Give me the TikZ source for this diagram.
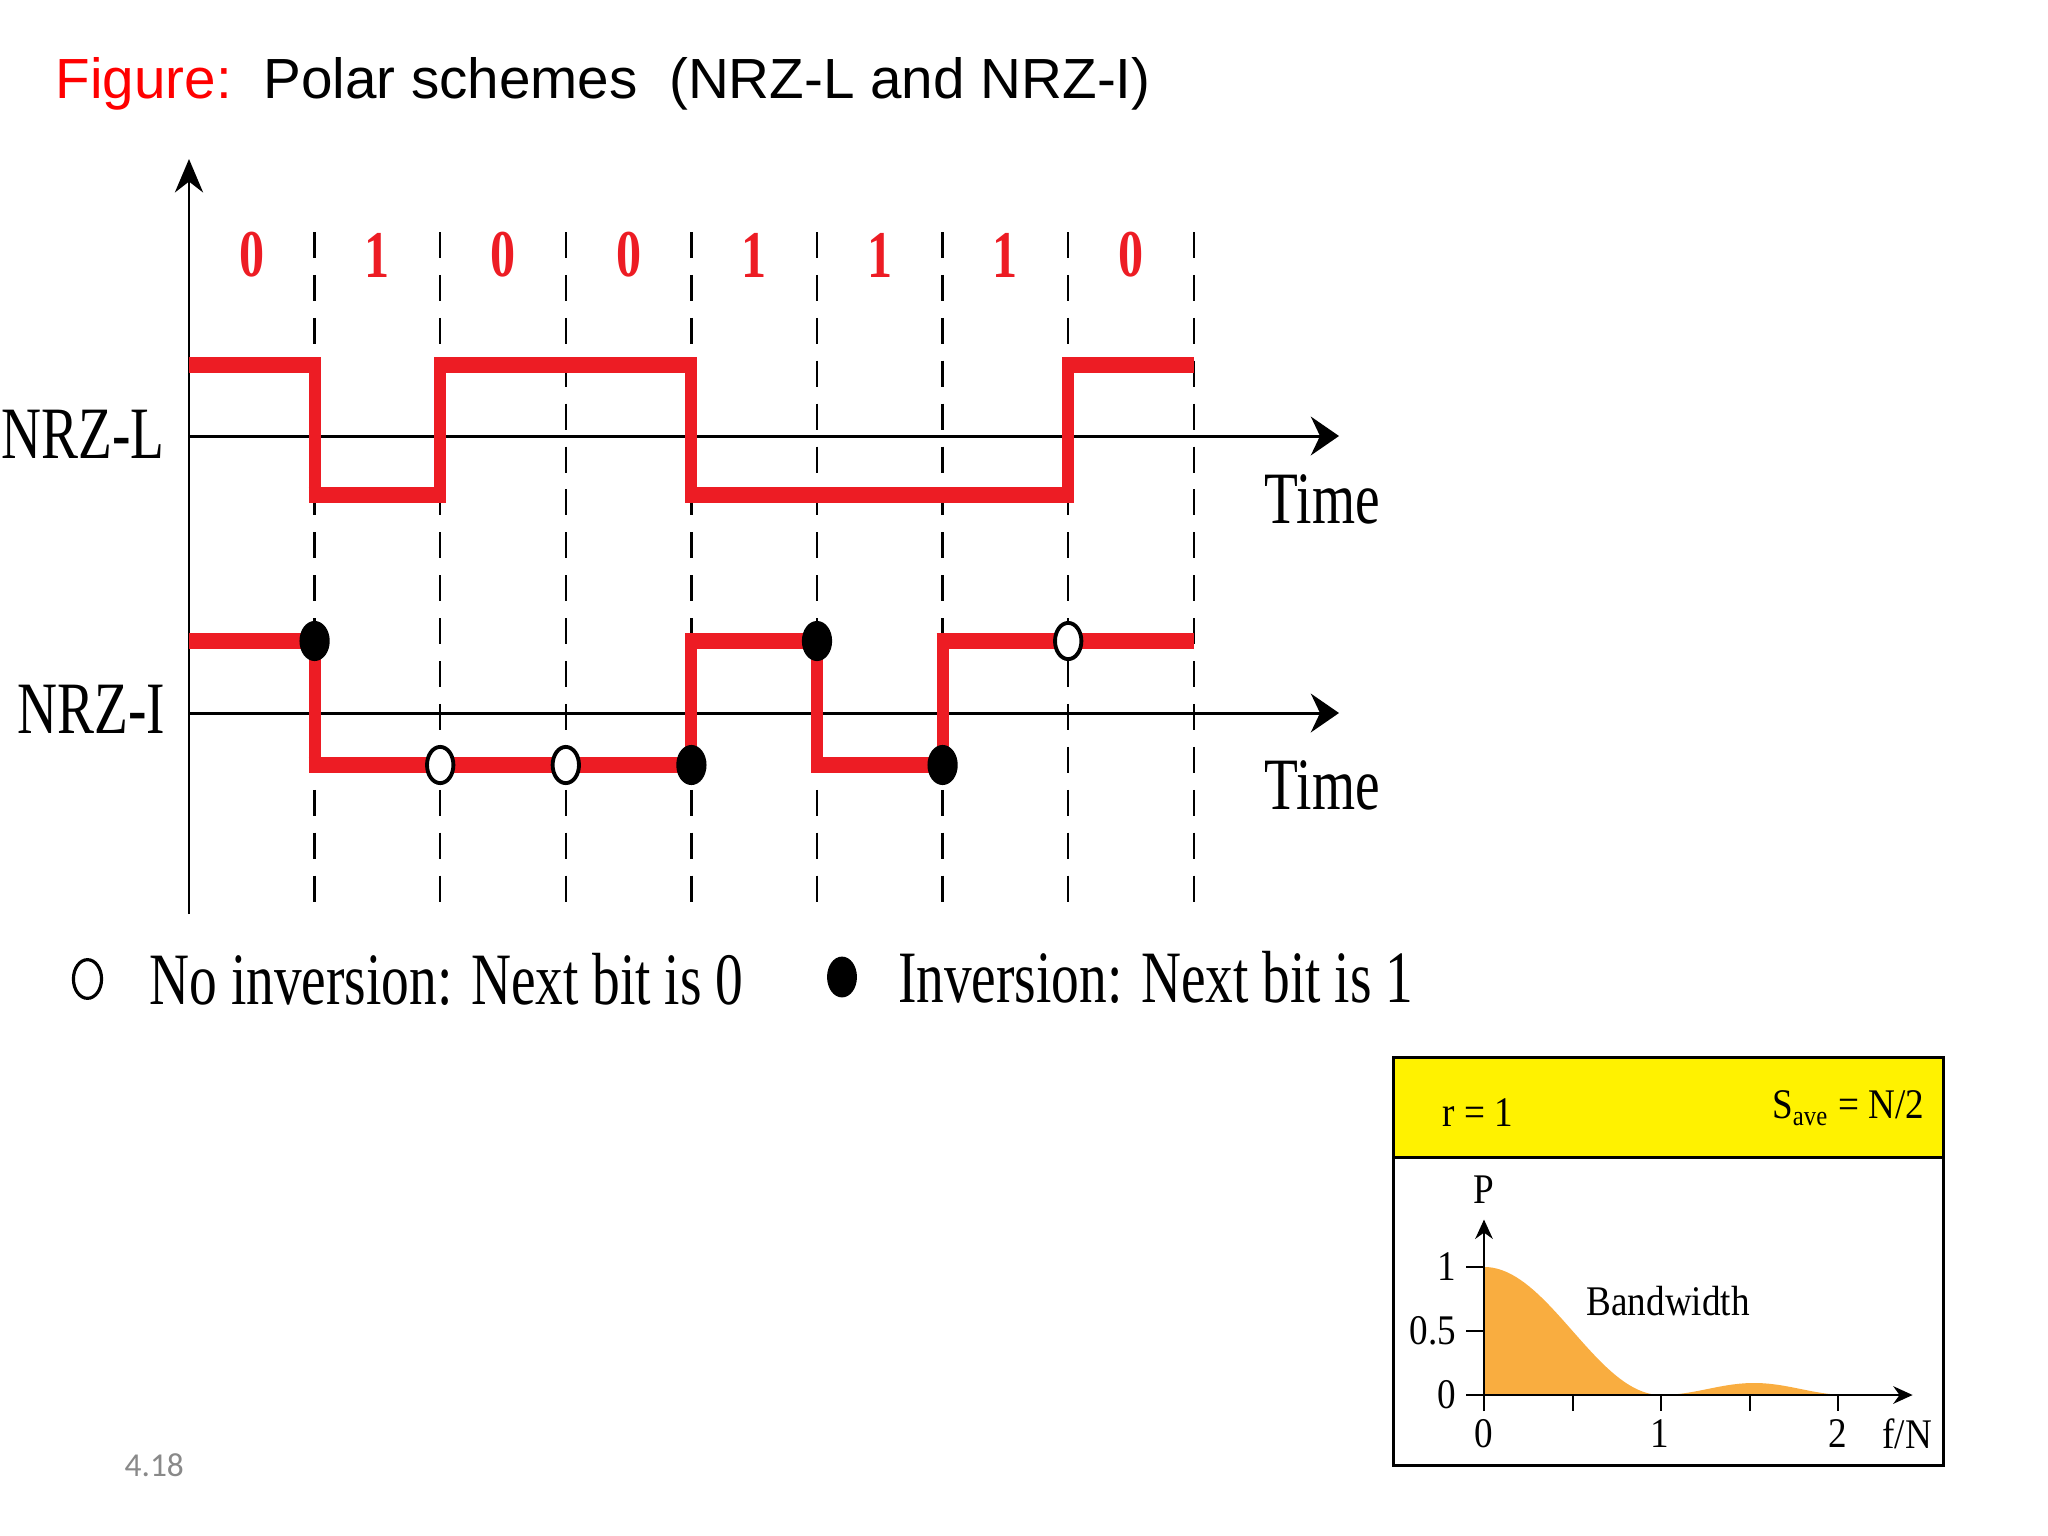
\documentclass[tikz,border=0pt]{standalone}
\usepackage{fontspec}
\setmainfont{Liberation Serif}
\newfontfamily\sanstitle{Liberation Sans}
\newfontfamily\narrowserif[FakeStretch=0.75]{Liberation Serif}
\newfontfamily\boxserif[FakeStretch=0.88]{Liberation Serif}
\newfontfamily\slidenum{Carlito}
\usepackage{tikz}
\usetikzlibrary{positioning,arrows.meta,shapes.geometric}

\definecolor{sigred}{RGB}{237,28,36}
\definecolor{boxyellow}{RGB}{255,242,0}
\definecolor{psdorange}{RGB}{249,173,64}
\definecolor{numgray}{RGB}{137,137,137}

\newcommand{\wavelabel}{\narrowserif\fontsize{21}{24}\selectfont}
\newcommand{\bitlabel}{\narrowserif\bfseries\fontsize{19}{22}\selectfont}
\newcommand{\boxlabel}{\boxserif\fontsize{12}{14}\selectfont}

\begin{document}
\begin{tikzpicture}[x=0.01cm, y=-0.01cm,
    axis/.style={line width=0.85pt},
    haxis/.style={axis, -{Stealth[length=8pt, width=11pt]}},
    vaxis/.style={axis, -{Stealth[length=9.5pt, width=8pt]}},
    bitline/.style={line width=0.7pt, dash pattern=on 7.4pt off 4.8pt},
    sigv/.style={sigred, line width=3.4pt, line join=miter},
    sigh/.style={sigred, line width=4.8pt, shorten <=-1.7pt, shorten >=-1.7pt},
    openmark/.style={ellipse, draw, fill=white, line width=1.1pt, minimum width=7.5pt, minimum height=10.3pt, inner sep=0pt},
    fullmark/.style={openmark, fill=black},
    txt/.style={inner sep=0pt},
    small/.style={line width=0.6pt}
]
\useasboundingbox (0,0) rectangle (2048,1536);

% titolo
\node[txt, anchor=base west, font=\sanstitle\fontsize{16.1}{19}\selectfont] (title) at (55,98)
    {\textcolor{red}{Figure:}~~Polar schemes~~(NRZ-L and NRZ-I)};

% griglia dei bit
\foreach \k in {1,...,8}
    \draw[bitline] ({189+125.6*\k},232) -- ({189+125.6*\k},904);

\foreach \b [count=\k from 0] in {0,1,0,0,1,1,1,0}
    \node[txt, text=sigred, font=\bitlabel] (bit\k) at ({251.8+125.6*\k},255) {\b};

% assi
\coordinate (origin) at (189,914);
\coordinate (ytop) at (189,159);
\coordinate (lstart) at (189,436);
\coordinate (lend) at (1339,436);
\coordinate (istart) at (189,713);
\coordinate (iend) at (1339,713);
\draw[vaxis] (origin) -- (ytop);
\draw[haxis] (lstart) -- (lend);
\draw[haxis] (istart) -- (iend);

\node[txt, anchor=east, font=\wavelabel] (nrzl) at (165,434) {NRZ-L};
\node[txt, anchor=east, font=\wavelabel] (nrzi) at (166,709) {NRZ-I};
\node[txt, anchor=west, font=\wavelabel] (timel) at (1264,499) {Time};
\node[txt, anchor=west, font=\wavelabel] (timei) at (1264,785) {Time};

% NRZ-L
\draw[sigv] (195,365) -- (314.6,365) -- (314.6,495) -- (440.2,495) -- (440.2,365) -- (691.4,365)
    -- (691.4,495) -- (1068.2,495) -- (1068.2,365) -- (1188,365);
\foreach \xa/\xb/\yy in {195/314.6/365, 314.6/440.2/495, 440.2/691.4/365, 691.4/1068.2/495, 1068.2/1188/365}
    \draw[sigh] (\xa,\yy) -- (\xb,\yy);

% NRZ-I
\draw[sigv] (195,641) -- (314.6,641) -- (314.6,765) -- (691.4,765) -- (691.4,641) -- (817,641)
    -- (817,765) -- (942.6,765) -- (942.6,641) -- (1188,641);
\foreach \xa/\xb/\yy in {195/314.6/641, 314.6/691.4/765, 691.4/817/641, 817/942.6/765, 942.6/1188/641}
    \draw[sigh] (\xa,\yy) -- (\xb,\yy);

\node[fullmark] (inv1) at (314.6,641) {};
\node[openmark] (same1) at (440.2,765) {};
\node[openmark] (same2) at (565.8,765) {};
\node[fullmark] (inv2) at (691.4,765) {};
\node[fullmark] (inv3) at (817,641) {};
\node[fullmark] (inv4) at (942.6,765) {};
\node[openmark] (same3) at (1068.2,641) {};

% legenda
\node[openmark, line width=0.9pt, minimum width=8pt, minimum height=11pt] (noinv) at (87.5,979) {};
\node[txt, font=\wavelabel, right=13pt of noinv] (noinvtxt) {No inversion: Next bit is 0};
\node[fullmark, minimum width=7.4pt, minimum height=10.5pt] (inv) at (842,977) {};
\node[txt, font=\wavelabel, right=11.5pt of inv] (invtxt) {Inversion: Next bit is 1};

% riquadro dello spettro
\fill[boxyellow] (1393,1057) rectangle (1943,1157);
\draw[line width=0.85pt] (1393,1157) -- (1943,1157);
\draw[line width=0.85pt] (1393,1057) rectangle (1943,1465);
\node[txt, anchor=west, font=\boxlabel] (rate) at (1442,1113) {r = 1};
\node[txt, anchor=east, font=\boxlabel] (save) at (1925,1108) {S\textsubscript{ave} = N/2};

\begin{scope}[shift={(1484,1395)}, x=1.77cm, y=1.28cm]
    \fill[psdorange] (0,0) -- plot[domain=0:1, samples=40] (\x,{pow(cos(90*\x),2)})
        -- plot[domain=1:2.05, samples=30] (\x,{0.094*pow(sin(180*(\x-1)/1.05),2)}) -- cycle;
    \coordinate (o) at (0,0);
    \coordinate (obot) at (0,-0.125);
    \coordinate (ptop) at (0,1.37);
    \coordinate (fend) at (2.42,0);
    \draw[small, -{Stealth[length=5.5pt, width=5pt]}] (obot) -- (ptop);
    \draw[small, -{Stealth[length=5.5pt, width=5pt]}] (o) -- (fend);
    \foreach \v in {0,0.5,1}
        \draw[small] (-0.1,\v) -- (0,\v);
    \foreach \f in {0.5,1,1.5,2}
        \draw[small] (\f,0) -- (\f,-0.125);
    \node[txt, anchor=east, font=\boxlabel] (p1) at (-0.153,1) {1};
    \node[txt, anchor=east, font=\boxlabel] (phalf) at (-0.153,0.5) {0.5};
    \node[txt, anchor=east, font=\boxlabel] (p0) at (-0.153,0) {0};
    \node[txt, font=\boxlabel] (f0) at (0,-0.3) {0};
    \node[txt, font=\boxlabel] (f1) at (0.99,-0.3) {1};
    \node[txt, font=\boxlabel] (f2) at (2,-0.3) {2};
    \node[txt, font=\boxlabel] (fn) at (2.39,-0.3) {f/N};
    \node[txt, font=\boxlabel] (plab) at (0,1.6) {P};
    \node[txt, font=\boxlabel] (bw) at (1.04,0.73) {Bandwidth};
\end{scope}

\node[txt, anchor=west, text=numgray, font=\slidenum\fontsize{9.5}{11}\selectfont] (pagenum) at (124,1465) {4.18};
\end{tikzpicture}
\end{document}
